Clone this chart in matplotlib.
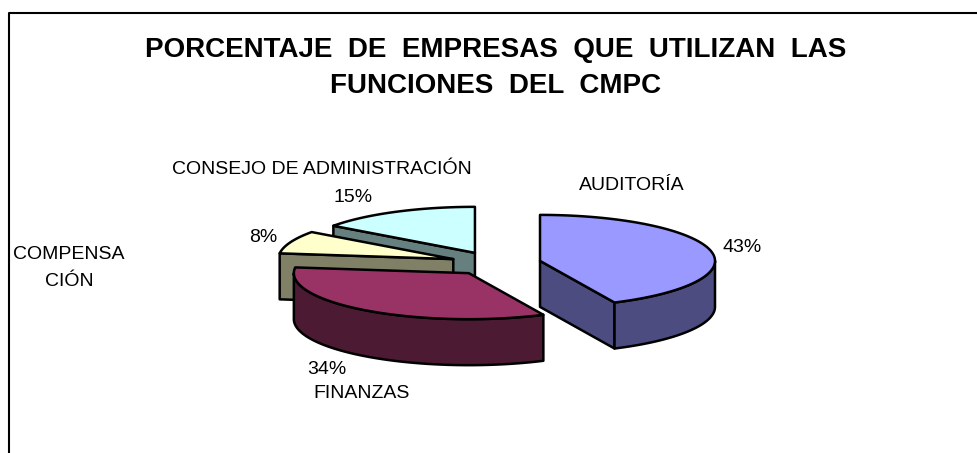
import numpy as np
import matplotlib
matplotlib.use("Agg")
import matplotlib.pyplot as plt
from matplotlib.patches import Polygon

# datos del grafico
categorias = ["AUDITORÍA", "FINANZAS", "COMPENSA\nCIÓN", "CONSEJO DE ADMINISTRACIÓN"]
valores = [43, 34, 8, 15]
color_sup = ["#9999FF", "#993366", "#FFFFCC", "#CCFFFF"]
color_lado = ["#4C4C80", "#4C1A33", "#808066", "#668080"]

plt.rcParams['font.family'] = ['Liberation Sans', 'DejaVu Sans']

fig = plt.figure(figsize=(9.77, 4.53), dpi=100)
ax = fig.add_axes([0, 0, 1, 1])
ax.set_xlim(0, 977)
ax.set_ylim(453, 0)
ax.axis('off')

# geometria del pastel 3d (pixeles)
cx, cy = 495.6, 263.5
rx, ry = 175, 46
prof = 46
expl = 0.26
lw = 1.8

def punto(xc, yc, t):
    t = np.radians(t)
    return xc + rx * np.sin(t), yc - ry * np.cos(t)

def arco(xc, yc, a, b, dz=0):
    ts = np.linspace(a, b, max(int(abs(b - a)), 2) + 1)
    xs, ys = punto(xc, yc, ts)
    return np.column_stack([xs, ys + dz])

# angulos en sentido horario desde arriba
fr = np.array(valores) / sum(valores) * 360
ini = np.concatenate([[0], np.cumsum(fr)[:-1]])
fin = ini + fr
mid = (ini + fin) / 2

orden = np.argsort(-np.cos(np.radians(mid)))
for i in orden:
    ox, oy = punto(0, 0, mid[i])
    xc, yc = cx + expl * ox, cy + expl * oy
    # cara radial de inicio
    if np.cos(np.radians(ini[i] - 90)) < -1e-6:
        px, py = punto(xc, yc, ini[i])
        q = [[xc, yc], [px, py], [px, py + prof], [xc, yc + prof]]
        ax.add_patch(Polygon(q, closed=True, fc=color_lado[i], ec='black', lw=lw, joinstyle='round'))
    # cara radial final
    if np.cos(np.radians(fin[i] + 90)) < -1e-6:
        px, py = punto(xc, yc, fin[i])
        q = [[xc, yc], [px, py], [px, py + prof], [xc, yc + prof]]
        ax.add_patch(Polygon(q, closed=True, fc=color_lado[i], ec='black', lw=lw, joinstyle='round'))
    # pared exterior visible
    a, b = max(ini[i], 90), min(fin[i], 270)
    if b > a:
        arr = arco(xc, yc, a, b)
        aba = arco(xc, yc, a, b, prof)[::-1]
        ax.add_patch(Polygon(np.vstack([arr, aba]), closed=True, fc=color_lado[i], ec='black', lw=lw, joinstyle='round'))
    # cara superior
    sup = np.vstack([[xc, yc], arco(xc, yc, ini[i], fin[i])])
    ax.add_patch(Polygon(sup, closed=True, fc=color_sup[i], ec='black', lw=lw, joinstyle='round'))

# titulo
ax.text(496, 57, "PORCENTAJE  DE  EMPRESAS  QUE  UTILIZAN  LAS", ha='center', va='baseline',
        fontsize=20, fontweight='bold')
ax.text(496, 93, "FUNCIONES  DEL  CMPC", ha='center', va='baseline',
        fontsize=20, fontweight='bold')

# etiquetas
fs = 14
ax.text(632, 186, categorias[0], ha='center', va='center', fontsize=fs)
ax.text(742, 247, f"{valores[0]}%", ha='center', va='center', fontsize=fs)
ax.text(327, 370, f"{valores[1]}%", ha='center', va='center', fontsize=fs)
ax.text(362, 393, categorias[1], ha='center', va='center', fontsize=fs)
ax.text(69, 268, categorias[2], ha='center', va='center', fontsize=fs, linespacing=1.75)
ax.text(263, 237, f"{valores[2]}%", ha='center', va='center', fontsize=fs)
ax.text(322, 170, categorias[3], ha='center', va='center', fontsize=fs)
ax.text(353, 198, f"{valores[3]}%", ha='center', va='center', fontsize=fs)

# marco
ax.plot([8.5, 8.5, 977], [453, 12.5, 12.5], color='black', lw=1.5)

fig.savefig("out.png", dpi=100)
